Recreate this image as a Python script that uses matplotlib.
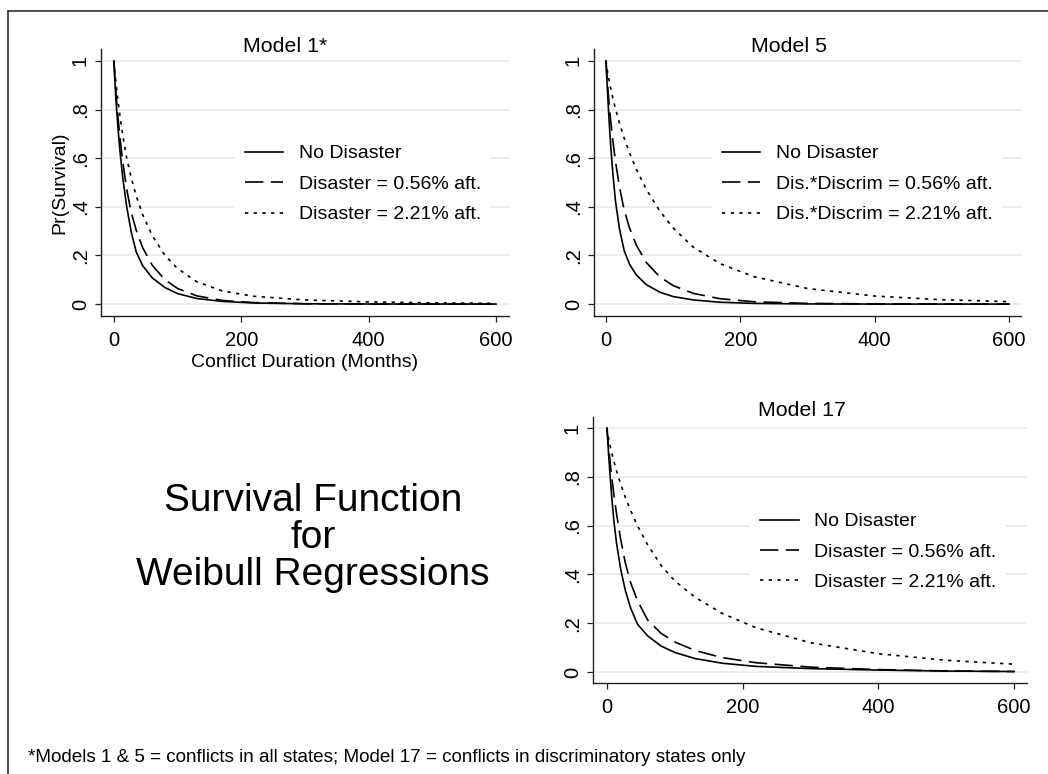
import matplotlib
matplotlib.use("Agg")
import matplotlib.pyplot as plt
from matplotlib.lines import Line2D

plt.rcParams['font.family'] = ['Liberation Sans', 'DejaVu Sans']

months = [0, 1, 2, 3, 5, 7, 10, 14, 20, 27, 35, 45, 60, 80, 100, 130, 170, 220, 300, 400, 500, 600]

# Model 1*
m1_none = [1, 0.940, 0.891, 0.847, 0.770, 0.701, 0.613, 0.515, 0.400, 0.297, 0.214, 0.158, 0.108,
           0.068, 0.043, 0.023, 0.011, 0.0045, 0.0012, 0.0003, 0.0001, 0.0]
m1_low = [1, 0.951, 0.910, 0.873, 0.806, 0.747, 0.669, 0.580, 0.472, 0.377, 0.303, 0.232, 0.160,
          0.100, 0.064, 0.034, 0.015, 0.006, 0.0014, 0.0003, 0.0001, 0.0]
m1_high = [1, 0.966, 0.938, 0.912, 0.864, 0.820, 0.761, 0.690, 0.600, 0.520, 0.444, 0.368, 0.282,
           0.200, 0.146, 0.092, 0.054, 0.032, 0.017, 0.009, 0.005, 0.003]

# Model 5
m5_none = [1, 0.941, 0.885, 0.832, 0.737, 0.652, 0.543, 0.425, 0.310, 0.220, 0.164, 0.120, 0.080,
           0.049, 0.031, 0.017, 0.0076, 0.0029, 0.0007, 0.0001, 0.0, 0.0]
m5_low = [1, 0.952, 0.912, 0.876, 0.811, 0.753, 0.676, 0.589, 0.482, 0.387, 0.313, 0.243, 0.171,
          0.112, 0.076, 0.044, 0.022, 0.0097, 0.0029, 0.0007, 0.0002, 0.0001]
m5_high = [1, 0.977, 0.959, 0.943, 0.913, 0.886, 0.849, 0.804, 0.744, 0.683, 0.622, 0.555, 0.472,
           0.383, 0.313, 0.234, 0.166, 0.113, 0.064, 0.033, 0.018, 0.010]

# Model 17
m17_none = [1, 0.954, 0.910, 0.868, 0.790, 0.718, 0.623, 0.530, 0.424, 0.335, 0.261, 0.196, 0.148,
            0.106, 0.080, 0.055, 0.036, 0.023, 0.014, 0.008, 0.004, 0.002]
m17_low = [1, 0.965, 0.934, 0.905, 0.851, 0.800, 0.731, 0.650, 0.546, 0.447, 0.365, 0.292, 0.213,
           0.158, 0.123, 0.088, 0.059, 0.038, 0.020, 0.010, 0.0044, 0.002]
m17_high = [1, 0.979, 0.963, 0.949, 0.922, 0.898, 0.865, 0.825, 0.772, 0.716, 0.661, 0.599, 0.521,
            0.436, 0.373, 0.306, 0.240, 0.181, 0.120, 0.075, 0.048, 0.032]

labels_dis = ["No Disaster", "Disaster = 0.56% aft.", "Disaster = 2.21% aft."]
labels_int = ["No Disaster", "Dis.*Discrim = 0.56% aft.", "Dis.*Discrim = 2.21% aft."]
yticks = [0, 0.2, 0.4, 0.6, 0.8, 1]
ytick_labels = ["0", ".2", ".4", ".6", ".8", "1"]
xticks = [0, 200, 400, 600]

W, H = 1048, 774
fig = plt.figure(figsize=(W / 100, H / 100), dpi=100)
FS = 14


def rect(left, right, top, bottom):
    return [left / W, 1 - bottom / H, (right - left) / W, (bottom - top) / H]


def panel(r, xlim, ylim, curves, labels, title, title_x, title_y, leg_x, leg_y):
    ax = fig.add_axes(r)
    styles = [dict(linestyle='-'), dict(dashes=(11, 4.5)), dict(dashes=(2, 3.2))]
    for ys, lab, st in zip(curves, labels, styles):
        ax.plot(months, ys, color='black', lw=1.2, label=lab, **st)
    ax.set_xlim(*xlim)
    ax.set_ylim(*ylim)
    ax.set_yticks(yticks)
    ax.set_yticklabels(ytick_labels)
    ax.set_xticks(xticks)
    for y in yticks:
        ax.axhline(y, color='#e8e8e8', lw=1.1, zorder=0)
    for s in ['top', 'right']:
        ax.spines[s].set_visible(False)
    for s in ['left', 'bottom']:
        ax.spines[s].set_color('#222222')
        ax.spines[s].set_linewidth(1.0)
    ax.tick_params(axis='both', direction='out', length=4, width=0.9,
                   color='#222222', labelsize=14.5)
    ax.tick_params(axis='x', pad=7)
    ax.tick_params(axis='y', pad=4, labelrotation=90)
    for t in ax.get_yticklabels():
        t.set_va('center')
    ax.text(title_x, title_y, title, transform=ax.transAxes, ha='center',
            va='center', fontsize=15.4)
    leg = ax.legend(loc='center left', bbox_to_anchor=(leg_x, leg_y), frameon=True,
                    fontsize=FS, handlelength=2.0, handletextpad=0.8,
                    labelspacing=0.66, borderpad=0.5, borderaxespad=0,
                    fancybox=False)
    leg.get_frame().set_facecolor('white')
    leg.get_frame().set_edgecolor('none')
    leg.get_frame().set_alpha(1)
    return ax


ax1 = panel(rect(101, 509, 49, 316), (-20.4, 620.4), (-0.049, 1.049),
            [m1_none, m1_low, m1_high], labels_dis, "Model 1*", 0.451, 1.011, 0.328, 0.494)
ax1.set_ylabel("Pr(Survival)", fontsize=FS, labelpad=2)
ax1.set_xlabel("Conflict Duration (Months)", fontsize=FS, labelpad=3)

ax2 = panel(rect(594, 1021, 49, 316), (-17.9, 617.9), (-0.049, 1.049),
            [m5_none, m5_low, m5_high], labels_int, "Model 5", 0.457, 1.011, 0.276, 0.494)

ax3 = panel(rect(593, 1027, 417, 683), (-20.6, 619), (-0.045, 1.045),
            [m17_none, m17_low, m17_high], labels_dis, "Model 17", 0.4816, 1.023, 0.362, 0.4925)

fig.text(313 / W, 1 - 538 / H, "Survival Function\nfor\nWeibull Regressions",
         ha='center', va='center', fontsize=28, linespacing=1.05)

fig.text(28 / W, 1 - 757 / H,
         "*Models 1 & 5 = conflicts in all states; Model 17 = conflicts in discriminatory states only",
         ha='left', va='center', fontsize=13.6)

# outer frame (top and left edges visible)
fig.add_artist(Line2D([8 / W, 1], [1 - 11 / H, 1 - 11 / H], color='#222222', lw=1.1))
fig.add_artist(Line2D([8 / W, 8 / W], [0, 1 - 11 / H], color='#222222', lw=1.1))

fig.savefig("out.png", dpi=100)
